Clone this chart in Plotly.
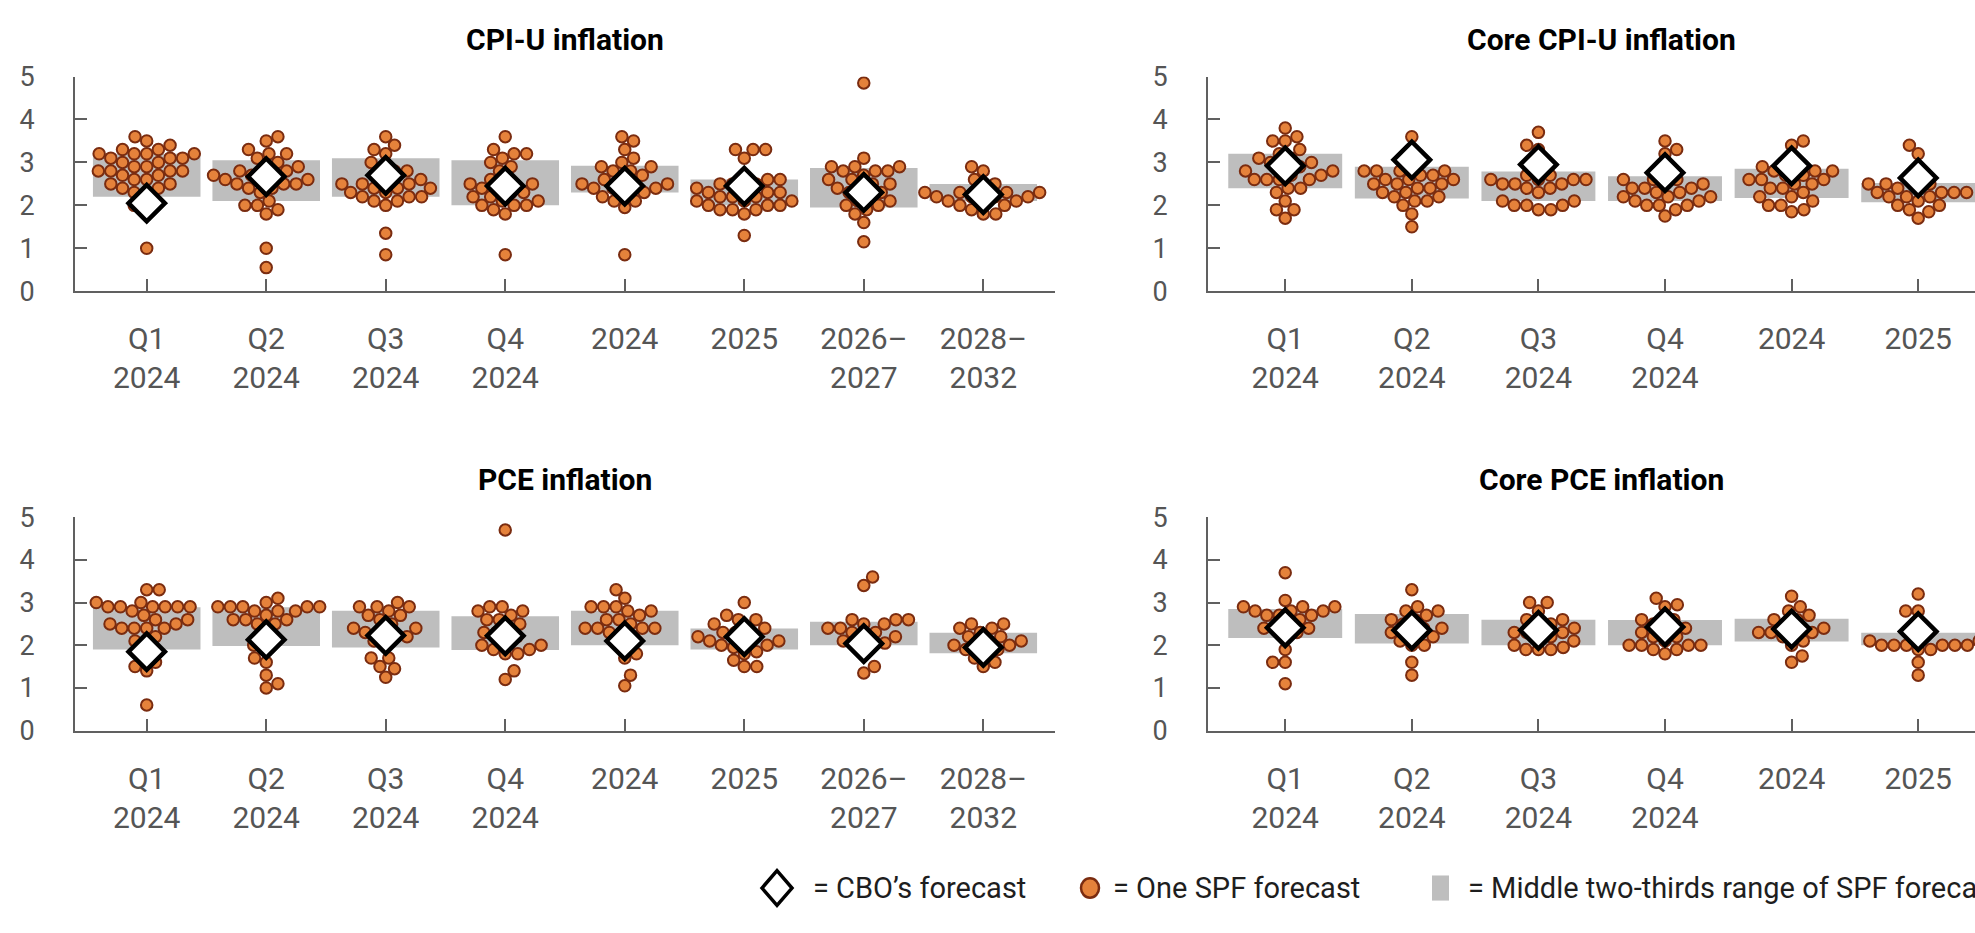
import math
import plotly.graph_objects as go

W, H = 1975, 933

# category labels
cats_long = ["Q1<br>2024", "Q2<br>2024", "Q3<br>2024", "Q4<br>2024", "2024", "2025",
             "2026–<br>2027", "2028–<br>2032"]
cats_short = cats_long[:6]

# CPI-U inflation: SPF forecasts per category, CBO forecast, middle two-thirds range
cpi_spf = [
    [1.0, 2.0, 2.0, 2.3, 2.3, 2.4, 2.4, 2.5, 2.5, 2.6, 2.6, 2.7, 2.7, 2.8, 2.8, 2.8, 2.8, 2.9, 2.9, 3.0,
     3.0, 3.1, 3.1, 3.1, 3.2, 3.2, 3.2, 3.2, 3.3, 3.3, 3.4, 3.5, 3.6],
    [0.55, 1.0, 1.8, 1.9, 2.0, 2.0, 2.1, 2.3, 2.4, 2.4, 2.5, 2.5, 2.5, 2.6, 2.6, 2.6, 2.7, 2.7, 2.7, 2.8,
     2.8, 2.9, 2.9, 3.0, 3.1, 3.2, 3.2, 3.3, 3.5, 3.6],
    [0.85, 1.35, 2.0, 2.1, 2.1, 2.2, 2.2, 2.2, 2.3, 2.3, 2.4, 2.4, 2.4, 2.5, 2.5, 2.5, 2.6, 2.6, 2.7, 2.8,
     2.8, 2.9, 3.0, 3.2, 3.3, 3.4, 3.6],
    [0.85, 1.8, 1.9, 2.0, 2.0, 2.0, 2.1, 2.1, 2.2, 2.2, 2.3, 2.3, 2.4, 2.4, 2.5, 2.5, 2.6, 2.6, 2.8, 2.9,
     3.0, 3.1, 3.2, 3.2, 3.3, 3.6],
    [0.85, 1.95, 2.1, 2.1, 2.2, 2.3, 2.3, 2.4, 2.4, 2.4, 2.5, 2.5, 2.5, 2.6, 2.6, 2.7, 2.8, 2.8, 2.9, 2.9,
     3.0, 3.1, 3.3, 3.5, 3.6],
    [1.3, 1.8, 1.9, 1.9, 1.9, 2.0, 2.0, 2.0, 2.1, 2.1, 2.1, 2.2, 2.2, 2.2, 2.3, 2.3, 2.3, 2.4, 2.4, 2.5,
     2.5, 2.5, 2.6, 2.6, 3.1, 3.3, 3.3, 3.3],
    [1.15, 1.6, 1.8, 1.9, 2.0, 2.0, 2.1, 2.1, 2.2, 2.3, 2.3, 2.4, 2.4, 2.5, 2.5, 2.6, 2.6, 2.7, 2.8, 2.8,
     2.8, 2.9, 2.9, 2.9, 3.1, 4.85],
    [1.8, 1.8, 1.9, 2.0, 2.0, 2.1, 2.1, 2.1, 2.2, 2.2, 2.2, 2.2, 2.3, 2.3, 2.3, 2.3, 2.4, 2.5, 2.6, 2.8,
     2.9],
]
cpi_cbo = [2.05, 2.67, 2.7, 2.45, 2.45, 2.45, 2.3, 2.25]
cpi_lo = [2.2, 2.1, 2.2, 2.0, 2.3, 2.0, 1.95, 2.1]
cpi_hi = [3.2, 3.05, 3.1, 3.05, 2.92, 2.6, 2.87, 2.5]

# Core CPI-U inflation
core_cpi_spf = [
    [1.7, 1.9, 1.9, 2.1, 2.3, 2.4, 2.4, 2.6, 2.6, 2.6, 2.6, 2.7, 2.7, 2.8, 2.8, 2.9, 2.9, 3.0, 3.0, 3.1,
     3.1, 3.2, 3.3, 3.5, 3.5, 3.6, 3.8],
    [1.5, 1.8, 2.0, 2.1, 2.1, 2.2, 2.2, 2.3, 2.3, 2.4, 2.4, 2.5, 2.5, 2.5, 2.6, 2.6, 2.6, 2.7, 2.7, 2.8,
     2.8, 2.8, 2.8, 3.6],
    [1.9, 1.9, 2.0, 2.0, 2.0, 2.1, 2.1, 2.3, 2.4, 2.4, 2.5, 2.5, 2.5, 2.6, 2.6, 2.6, 2.6, 2.7, 2.7, 3.3,
     3.4, 3.7],
    [1.75, 1.9, 2.0, 2.0, 2.0, 2.1, 2.1, 2.2, 2.2, 2.2, 2.3, 2.3, 2.4, 2.4, 2.4, 2.5, 2.5, 2.6, 2.6, 2.6,
     3.2, 3.3, 3.5],
    [1.85, 1.9, 2.0, 2.0, 2.1, 2.2, 2.2, 2.3, 2.4, 2.4, 2.5, 2.5, 2.6, 2.6, 2.6, 2.7, 2.7, 2.8, 2.8, 2.8,
     2.9, 2.9, 3.4, 3.5],
    [1.7, 1.85, 1.9, 2.0, 2.0, 2.1, 2.2, 2.2, 2.2, 2.3, 2.3, 2.3, 2.3, 2.4, 2.4, 2.5, 2.5, 2.5, 2.9, 3.2,
     3.4],
]
core_cpi_cbo = [2.92, 3.06, 2.95, 2.76, 2.92, 2.64]
core_cpi_lo = [2.4, 2.16, 2.1, 2.1, 2.17, 2.07]
core_cpi_hi = [3.2, 2.9, 2.79, 2.68, 2.85, 2.52]

# PCE inflation
pce_spf = [
    [0.6, 1.4, 1.5, 1.6, 1.7, 2.0, 2.1, 2.2, 2.4, 2.4, 2.4, 2.4, 2.5, 2.5, 2.6, 2.6, 2.7, 2.8, 2.9, 2.9,
     2.9, 2.9, 2.9, 2.9, 3.0, 3.0, 3.3, 3.3],
    [1.0, 1.1, 1.3, 1.6, 1.7, 2.0, 2.0, 2.3, 2.5, 2.5, 2.6, 2.6, 2.6, 2.7, 2.8, 2.8, 2.8, 2.9, 2.9, 2.9,
     2.9, 2.9, 3.0, 3.1],
    [1.25, 1.45, 1.5, 1.7, 1.7, 2.0, 2.1, 2.2, 2.2, 2.3, 2.3, 2.4, 2.4, 2.5, 2.6, 2.7, 2.7, 2.8, 2.9, 2.9,
     2.9, 3.0],
    [1.2, 1.4, 1.8, 1.8, 1.9, 1.9, 2.0, 2.0, 2.1, 2.2, 2.3, 2.3, 2.4, 2.5, 2.6, 2.6, 2.7, 2.8, 2.8, 2.9,
     2.9, 4.7],
    [1.05, 1.3, 1.7, 1.8, 2.0, 2.2, 2.3, 2.3, 2.4, 2.4, 2.4, 2.4, 2.5, 2.6, 2.6, 2.7, 2.8, 2.8, 2.9, 2.9,
     2.9, 3.1, 3.3],
    [1.5, 1.5, 1.65, 1.8, 1.85, 1.95, 2.0, 2.0, 2.1, 2.1, 2.1, 2.2, 2.2, 2.3, 2.3, 2.4, 2.4, 2.5, 2.6, 2.6,
     2.7, 3.0],
    [1.35, 1.5, 1.8, 2.0, 2.0, 2.05, 2.1, 2.2, 2.2, 2.3, 2.3, 2.4, 2.4, 2.5, 2.5, 2.6, 2.6, 2.6, 3.4, 3.6],
    [1.5, 1.6, 1.7, 1.8, 1.9, 1.9, 2.0, 2.0, 2.0, 2.1, 2.1, 2.2, 2.2, 2.3, 2.4, 2.4, 2.5, 2.5],
]
pce_cbo = [1.85, 2.13, 2.23, 2.22, 2.1, 2.2, 2.04, 1.95]
pce_lo = [1.9, 1.98, 1.95, 1.89, 2.0, 1.9, 2.0, 1.81]
pce_hi = [2.89, 2.89, 2.81, 2.68, 2.81, 2.39, 2.55, 2.29]

# Core PCE inflation
core_pce_spf = [
    [1.1, 1.6, 1.6, 1.9, 2.2, 2.3, 2.4, 2.4, 2.4, 2.5, 2.6, 2.7, 2.7, 2.7, 2.8, 2.8, 2.8, 2.9, 2.9, 2.9,
     3.05, 3.7],
    [1.3, 1.6, 2.0, 2.0, 2.1, 2.2, 2.3, 2.3, 2.4, 2.4, 2.5, 2.6, 2.6, 2.7, 2.8, 2.8, 2.9, 3.3],
    [1.9, 1.9, 1.9, 1.95, 2.0, 2.1, 2.2, 2.2, 2.3, 2.3, 2.3, 2.4, 2.5, 2.5, 2.6, 2.6, 2.8, 3.0, 3.0],
    [1.8, 1.9, 1.9, 2.0, 2.0, 2.0, 2.0, 2.1, 2.2, 2.2, 2.3, 2.4, 2.4, 2.5, 2.6, 2.6, 2.9, 2.95, 3.1],
    [1.6, 1.75, 2.0, 2.1, 2.2, 2.3, 2.3, 2.3, 2.3, 2.4, 2.5, 2.6, 2.6, 2.7, 2.8, 2.9, 3.15],
    [1.3, 1.6, 1.9, 1.9, 2.0, 2.0, 2.0, 2.0, 2.0, 2.0, 2.1, 2.1, 2.2, 2.8, 2.8, 3.2],
]
core_pce_cbo = [2.41, 2.35, 2.35, 2.43, 2.38, 2.32]
core_pce_lo = [2.17, 2.04, 2.0, 2.0, 2.09, 2.0]
core_pce_hi = [2.85, 2.73, 2.6, 2.59, 2.62, 2.29]

DOT_FILL = "#E5823B"
DOT_LINE = "#7A2C10"
BAND = "#BEBEBE"
AXIS = "#606060"
TICKTXT = "#555555"
FONT = "Roboto"


def swarm(vals, d=12.5, py=44.4):
    """Beeswarm offsets (pixels) so dots with close values sit side by side."""
    placed = []
    out = [0.0] * len(vals)
    order = sorted(range(len(vals)), key=lambda i: vals[i])
    for k, i in enumerate(order):
        y = vals[i] * py
        blocks = []
        for xj, yj in placed:
            dy = abs(y - yj)
            if dy < d:
                h = math.sqrt(d * d - dy * dy)
                blocks.append((xj - h, xj + h))
        cands = [0.0] + [b[0] for b in blocks] + [b[1] for b in blocks]
        ok = [c for c in cands if all(not (lo + 1e-6 < c < hi - 1e-6) for lo, hi in blocks)]
        sign = 1 if k % 2 else -1
        best = min(ok, key=lambda c: (round(abs(c), 4), -sign * c))
        placed.append((best, y))
        out[i] = best
    return out


fig = go.Figure()


def add_panel(xa, ya, spf, cbo, lo, hi, px_per_cat):
    n = len(cbo)
    fig.add_trace(go.Bar(
        x=list(range(n)), y=[h - l for h, l in zip(hi, lo)], base=lo, width=0.9,
        marker=dict(color=BAND, line=dict(width=0)), xaxis=xa, yaxis=ya, hoverinfo="skip"))
    xs, ys = [], []
    for i, vals in enumerate(spf):
        offs = swarm(vals)
        xs += [i + o / px_per_cat for o in offs]
        ys += vals
    fig.add_trace(go.Scatter(
        x=xs, y=ys, mode="markers", xaxis=xa, yaxis=ya,
        marker=dict(size=11.5, color=DOT_FILL, line=dict(color=DOT_LINE, width=2))))
    fig.add_trace(go.Scatter(
        x=list(range(n)), y=cbo, mode="markers", xaxis=xa, yaxis=ya,
        marker=dict(symbol="diamond", size=28, color="white", line=dict(color="black", width=4.5))))


add_panel("x", "y", cpi_spf, cpi_cbo, cpi_lo, cpi_hi, 119.5)
add_panel("x2", "y2", core_cpi_spf, core_cpi_cbo, core_cpi_lo, core_cpi_hi, 126.6)
add_panel("x3", "y3", pce_spf, pce_cbo, pce_lo, pce_hi, 119.5)
add_panel("x4", "y4", core_pce_spf, core_pce_cbo, core_pce_lo, core_pce_hi, 126.6)


def xax(dom, rng, labels, anchor):
    return dict(domain=dom, range=rng, anchor=anchor, tickvals=list(range(len(labels))), ticktext=labels,
                showline=True, linecolor=AXIS, linewidth=2, ticks="inside", ticklen=12, tickwidth=2,
                tickcolor=AXIS, showgrid=False, zeroline=False, ticklabelstandoff=20,
                tickfont=dict(family=FONT, size=30, color=TICKTXT))


def yax(dom, anchor):
    return dict(domain=dom, range=[0, 5], anchor=anchor, tickvals=[0, 1, 2, 3, 4, 5],
                showline=True, linecolor=AXIS, linewidth=2, ticks="inside", ticklen=12, tickwidth=2,
                tickcolor=AXIS, showgrid=False, zeroline=False, ticklabelstandoff=33,
                tickfont=dict(family=FONT, size=27, color=TICKTXT))


left_dom = [75 / W, 1055 / W]
right_dom = [1208 / W, 1.0]
right_rng = [-0.61, (W - 1285.2) / 126.6]
top_dom = [1 - 285 / H, 1 - 62.7 / H]
bot_dom = [1 - 740 / H, 1 - 519 / H]

fig.update_layout(
    width=W, height=H, margin=dict(l=0, r=0, t=0, b=0),
    paper_bgcolor="white", plot_bgcolor="white", showlegend=False, barmode="overlay",
    xaxis=xax(left_dom, [-0.6, 7.6], cats_long, "y"),
    yaxis=yax(top_dom, "x"),
    xaxis2=xax(right_dom, right_rng, cats_short, "y2"),
    yaxis2=yax(top_dom, "x2"),
    xaxis3=xax(left_dom, [-0.6, 7.6], cats_long, "y3"),
    yaxis3=yax(bot_dom, "x3"),
    xaxis4=xax(right_dom, right_rng, cats_short, "y4"),
    yaxis4=yax(bot_dom, "x4"),
)

# panel titles
titles = [("CPI-U inflation", 565, 24), ("Core CPI-U inflation", 1601, 24),
          ("PCE inflation", 565, 480), ("Core PCE inflation", 1601, 480)]
for txt, px, py in titles:
    fig.add_annotation(text=txt, x=px / W, y=1 - py / H, xref="paper", yref="paper",
                       showarrow=False, xanchor="center", yanchor="middle",
                       font=dict(family=FONT, size=30, color="black", weight="bold"))

# legend key
ly = 903
fig.add_shape(type="path", xref="paper", yref="paper",
              path="M {},{} L {},{} L {},{} L {},{} Z".format(
                  762 / W, 1 - ly / H, 777 / W, 1 - (ly - 18) / H,
                  792 / W, 1 - ly / H, 777 / W, 1 - (ly + 18) / H),
              fillcolor="white", line=dict(color="black", width=3.5))
fig.add_shape(type="circle", xref="paper", yref="paper",
              x0=1081 / W, x1=1099 / W, y0=1 - (ly + 10) / H, y1=1 - (ly - 10) / H,
              fillcolor=DOT_FILL, line=dict(color=DOT_LINE, width=2.5))
fig.add_shape(type="rect", xref="paper", yref="paper",
              x0=1432 / W, x1=1449 / W, y0=1 - (ly + 13) / H, y1=1 - (ly - 13) / H,
              fillcolor=BAND, line=dict(width=0))
legend_txt = [("= CBO’s forecast", 811), ("= One SPF forecast", 1111),
              ("= Middle two-thirds range of SPF forecasts", 1466)]
for txt, px in legend_txt:
    fig.add_annotation(text=txt, x=px / W, y=1 - ly / H, xref="paper", yref="paper",
                       showarrow=False, xanchor="left", yanchor="middle",
                       font=dict(family=FONT, size=29, color="#1e1e1e"))

fig.write_html("out.html", config={"displayModeBar": False},
               post_script="document.body.style.margin='0';document.body.style.overflow='hidden';")
